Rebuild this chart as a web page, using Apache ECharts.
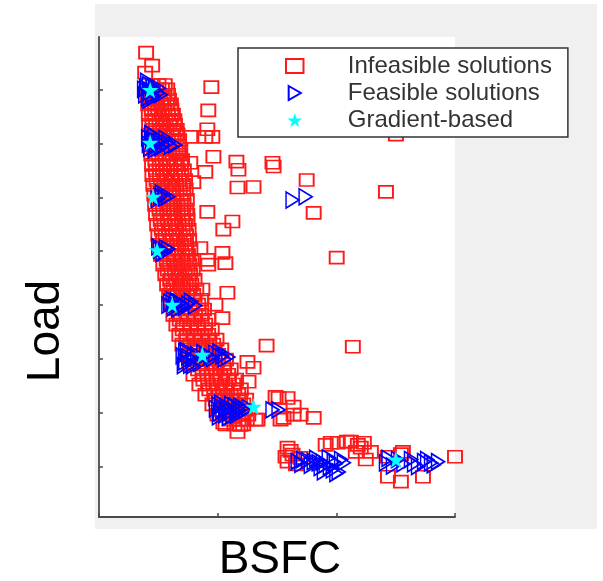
<!DOCTYPE html>
<html>
<head>
<meta charset="utf-8">
<script src="https://cdn.jsdelivr.net/npm/echarts@6/dist/echarts.min.js"></script>
<style>html,body{margin:0;padding:0;background:#fff}#c{width:603px;height:581px}</style>
</head>
<body>
<div id="c"></div>
<script>
// Series names (legend)
const seriesNames = ['Infeasible solutions', 'Feasible solutions', 'Gradient-based'];
const xTitle = 'BSFC';
const yTitle = 'Load';
const xTicks = [0, 100, 200, 300];
const yTicks = [10, 20, 30, 40, 50, 60, 70, 80];

// Infeasible solutions [BSFC, Load]
const infeasible = [
  [39.7,86.8],[44.8,84.4],[38.9,83.1],
  [40.6,80.8],[45.2,80.8],[50.1,80.8],[55.4,80.8],
  [43.0,80.0],[48.0,80.0],[53.0,80.0],[57.5,80.0],
  [41.0,79.0],[46.3,79.0],[51.2,79.0],[55.0,79.0],[58.1,79.0],
  [44.0,78.1],[49.0,78.1],[54.2,78.1],[59.0,78.1],
  [41.5,77.2],[47.1,77.2],[52.3,77.2],[57.2,77.2],[60.6,77.2],
  [44.5,76.2],[50.0,76.2],[55.0,76.2],[61.0,76.2],
  [42.0,75.3],[47.4,75.3],[53.0,75.3],[58.1,75.3],[62.3,75.3],
  [45.0,74.3],[51.0,74.3],[56.0,74.3],[60.5,74.3],[63.5,74.3],
  [42.2,73.4],[48.1,73.4],[54.0,73.4],[59.3,73.4],[64.0,73.4],
  [45.5,72.5],[51.5,72.5],[57.0,72.5],[62.5,72.5],[65.5,72.5],
  [42.5,71.6],[48.4,71.6],[55.1,71.6],[61.0,71.6],[66.2,71.6],
  [46.0,70.6],[52.0,70.6],[58.0,70.6],[63.0,70.6],[67.5,70.6],
  [43.0,69.6],[49.2,69.6],[55.3,69.6],[61.4,69.6],[66.9,69.6],
  [46.5,68.8],[52.5,68.8],[59.0,68.8],[64.5,68.8],[68.5,68.8],
  [44.1,67.9],[50.3,67.9],[56.2,67.9],[62.0,67.9],[68.1,67.9],
  [47.5,66.9],[53.5,66.9],[60.0,66.9],[65.5,66.9],[70.0,66.9],
  [44.7,66.0],[51.2,66.0],[57.1,66.0],[63.4,66.0],[69.0,66.0],
  [48.0,65.0],[54.0,65.0],[60.5,65.0],[66.5,65.0],[71.5,65.0],
  [45.0,64.1],[51.3,64.1],[57.4,64.1],[64.1,64.1],[69.4,64.1],
  [48.5,63.2],[55.0,63.2],[61.5,63.2],[67.5,63.2],[72.5,63.2],
  [45.8,62.3],[52.2,62.3],[58.3,62.3],[65.0,62.3],[70.8,62.3],
  [49.5,61.4],[56.0,61.4],[62.5,61.4],[68.0,61.4],[73.0,61.4],
  [46.6,60.5],[53.1,60.5],[59.2,60.5],[65.3,60.5],[71.0,60.5],
  [50.0,59.5],[57.0,59.5],[63.0,59.5],[69.0,59.5],[74.0,59.5],
  [47.3,58.6],[54.0,58.6],[60.2,58.6],[66.1,58.6],[71.2,58.6],
  [51.0,57.7],[57.5,57.7],[63.5,57.7],[69.0,57.7],[73.5,57.7],
  [48.1,56.8],[54.3,56.8],[60.4,56.8],[66.3,56.8],[70.9,56.8],
  [52.0,55.8],[58.0,55.8],[64.0,55.8],[70.0,55.8],[74.5,55.8],
  [49.0,54.9],[55.2,54.9],[61.3,54.9],[67.1,54.9],[72.4,54.9],
  [53.0,54.0],[59.0,54.0],[65.0,54.0],[70.5,54.0],[75.5,54.0],
  [50.0,53.0],[56.1,53.0],[62.2,53.0],[68.0,53.0],[73.3,53.0],
  [54.0,52.1],[60.0,52.1],[66.0,52.1],[71.5,52.1],[76.0,52.1],
  [50.8,51.2],[57.0,51.2],[63.1,51.2],[69.2,51.2],[73.1,51.2],
  [55.5,50.3],[61.0,50.3],[67.0,50.3],[72.5,50.3],[77.0,50.3],
  [52.3,49.3],[58.2,49.3],[64.0,49.3],[70.1,49.3],[75.0,49.3],
  [57.0,48.4],[63.0,48.4],[69.0,48.4],[73.5,48.4],[78.0,48.4],
  [54.2,47.5],[60.0,47.5],[66.1,47.5],[71.2,47.5],[76.0,47.5],
  [58.0,46.6],[64.0,46.6],[69.5,46.6],[74.5,46.6],[79.0,46.6],
  [55.9,45.7],[61.2,45.7],[67.0,45.7],[72.3,45.7],[76.8,45.7],
  [60.0,44.7],[65.0,44.7],[70.5,44.7],[75.5,44.7],[80.5,44.7],
  [57.4,43.8],[63.0,43.8],[68.2,43.8],[73.1,43.8],[77.9,43.8],
  [61.0,42.9],[66.0,42.9],[71.0,42.9],[76.5,42.9],[82.0,42.9],
  [59.1,41.9],[64.2,41.9],[69.3,41.9],[74.2,41.9],[79.4,41.9],
  [63.0,41.0],[68.5,41.0],[74.0,41.0],[80.5,41.0],[86.0,41.0],
  [61.0,40.1],[66.2,40.1],[72.1,40.1],[78.0,40.1],[83.6,40.1],
  [65.5,39.2],[72.0,39.2],[78.0,39.2],[84.0,39.2],[88.5,39.2],
  [62.7,38.2],[69.0,38.2],[75.1,38.2],[81.0,38.2],[86.1,38.2],
  [68.0,37.3],[74.0,37.3],[80.0,37.3],[86.5,37.3],[92.0,37.3],
  [65.2,36.4],[71.1,36.4],[77.2,36.4],[83.0,36.4],[89.5,36.4],
  [70.5,35.5],[77.0,35.5],[83.5,35.5],[89.0,35.5],[95.0,35.5],
  [67.7,34.5],[74.0,34.5],[80.1,34.5],[86.2,34.5],[92.0,34.5],
  [73.5,33.6],[80.5,33.6],[86.5,33.6],[93.0,33.6],[99.0,33.6],
  [70.3,32.7],[77.0,32.7],[83.2,32.7],[90.1,32.7],[96.2,32.7],
  [76.5,31.8],[83.5,31.8],[90.5,31.8],[97.5,31.8],[103.0,31.8],
  [72.8,30.8],[80.1,30.8],[87.0,30.8],[94.2,30.8],[100.4,30.8],
  [80.0,29.9],[86.5,29.9],[93.5,29.9],[100.5,29.9],[107.0,29.9],
  [76.2,29.0],[83.1,29.0],[90.2,29.0],[97.0,29.0],[104.7,29.0],
  [83.5,28.1],[91.0,28.1],[98.5,28.1],[105.5,28.1],[111.0,28.1],
  [79.6,27.1],[87.2,27.1],[95.0,27.1],[102.1,27.1],[108.8,27.1],
  [88.0,26.2],[95.5,26.2],[102.5,26.2],[109.5,26.2],[115.5,26.2],
  [84.6,25.3],[92.0,25.3],[99.1,25.3],[106.2,25.3],[113.1,25.3],
  [93.0,24.4],[100.5,24.4],[107.5,24.4],[114.0,24.4],[119.5,24.4],
  [89.7,23.4],[97.1,23.4],[104.2,23.4],[111.0,23.4],[117.3,23.4],
  [98.5,22.5],[106.0,22.5],[112.5,22.5],[119.0,22.5],[124.0,22.5],
  [95.6,21.6],[103.0,21.6],[109.2,21.6],[116.1,21.6],[121.6,21.6],
  [103.0,20.6],[110.0,20.6],[117.0,20.6],[123.0,20.6],
  [99.8,19.7],[107.1,19.7],[113.2,19.7],[120.0,19.7],[125.8,19.7],
  [110.0,18.8],[117.5,18.8],[124.5,18.8],
  [106.6,17.9],[114.2,17.9],[121.5,17.9],
  [94.7,80.4],[92.1,76.1],[91.3,72.6],[95.5,71.2],[76.9,71.2],[89.6,71.2],
  [96.4,67.5],[66.8,68.4],[76.9,66.4],[89.6,64.7],[79.5,62.8],
  [115.8,66.6],[117.5,65.1],[146.2,66.4],[147.1,65.7],[116.7,61.8],[130.2,61.9],
  [91.3,57.3],[112.4,55.5],[104.8,54.0],[104.0,49.7],[106.5,47.8],[91.3,48.4],
  [85.4,50.6],[74.4,56.8],[250.2,71.6],[175.0,63.2],[180.9,57.1],[241.8,61.0],
  [200.3,48.8],[213.9,32.3],[141.2,32.5],[92.1,47.5],[87.1,42.9],[108.2,42.3],
  [98.1,40.1],[104.0,37.6],[125.1,29.5],[130.2,28.4],[126.0,25.8],
  [148.8,23.0],[158.9,22.8],[155.5,19.1],
  [104.8,18.2],[116.7,16.5],[133.6,18.8],[153.0,18.8],[164.0,21.2],[164.0,19.7],
  [180.9,19.1],[151.3,22.8],[169.9,19.7],[131.9,18.8],[113.3,19.3],[119.2,17.8],
  [158.9,13.6],[157.2,11.9],[158.9,11.0],[163.1,12.3],[169.9,11.7],[161.5,13.0],
  [166.0,10.5],[195.3,14.5],[201.2,14.5],[208.8,14.7],[212.2,14.7],[218.1,14.1],
  [223.2,14.5],[216.4,12.8],[229.1,12.8],[224.8,11.4],[220.6,13.6],[243.5,11.9],
  [254.4,12.4],[256.1,12.8],[243.5,8.2],[254.4,7.3],[273.0,8.2],[300.0,11.9],
  [191.0,14.1]
];

// Feasible solutions [BSFC, Load]
const feasible = [
  [39.7,80.3],[43.1,79.6],[44.8,79.0],[41.4,78.4],[47.3,79.9],[49.9,79.3],[38.9,79.0],[42.0,80.9],
  [40.5,81.5],[45.5,80.5],[42.5,78.0],[46.0,78.6],[50.5,80.2],[52.0,79.0],[38.0,80.0],
  [41.4,71.0],[44.8,70.2],[48.2,69.5],[51.6,70.6],[54.1,69.7],[58.3,70.1],[64.2,69.7],[43.1,69.1],[46.5,71.3],
  [42.0,69.8],[45.5,70.8],[49.5,70.4],[52.5,69.2],[56.0,70.9],[60.5,69.5],[47.0,68.8],[44.0,71.8],
  [51.6,60.2],[55.8,59.9],[58.3,60.1],[53.0,60.8],[49.5,59.6],[54.5,60.5],
  [51.6,50.2],[55.8,49.9],[58.3,50.4],[53.5,49.6],[50.0,50.8],[56.5,50.6],
  [60.0,40.6],[64.2,40.1],[68.5,40.4],[75.2,40.2],[81.1,39.9],[66.8,39.3],[62.0,41.0],
  [58.5,40.0],[63.0,39.5],[70.5,40.0],[72.5,39.6],[77.5,40.7],[65.5,40.8],
  [72.7,31.4],[75.2,30.4],[78.6,29.9],[82.8,30.8],[87.9,31.2],[93.8,30.4],[98.1,31.0],
  [104.0,30.6],[109.0,30.4],[76.9,28.9],[72.7,29.5],[85.0,29.2],
  [70.5,30.6],[74.0,31.6],[80.0,30.6],[90.5,30.8],[96.0,30.1],[101.5,31.3],[106.0,30.0],[71.5,28.8],[79.5,28.8],
  [100.6,21.5],[104.0,20.6],[107.4,21.2],[110.7,20.2],[114.1,21.4],[117.5,20.6],[120.9,20.8],
  [126.0,21.0],[106.5,19.7],[112.4,19.5],[146.2,20.6],[151.3,20.6],[102.0,20.0],
  [98.5,20.8],[103.0,21.8],[108.5,20.6],[111.5,21.6],[115.5,20.2],[119.0,21.3],[123.5,20.5],[101.0,19.3],[109.5,19.2],[116.0,19.6],
  [167.4,11.0],[180.9,11.0],[185.1,10.8],[191.0,10.4],[197.0,9.5],[206.3,10.8],[197.8,11.0],
  [186.8,9.9],[193.6,11.7],[202.0,9.1],[241.8,10.8],[251.9,11.4],[262.9,11.4],[273.9,11.0],
  [279.8,10.8],[285.7,11.0],[268.8,10.1],[247.7,10.2],[170.5,10.5],[176.0,11.2],
  [172.0,11.4],[178.5,10.3],[183.0,11.6],[188.5,10.9],[194.5,10.0],[199.5,10.6],[204.0,11.4],[189.5,9.1],[200.0,8.8],
  [244.0,11.6],[256.5,10.6],[265.5,10.6],[276.5,11.4],[282.0,10.4],
  [163.1,59.5],[174.1,60.1]
];

// Gradient-based optimum [BSFC, Load]
const gradient = [
  [43.1,79.9],[43.1,70.1],[45.6,60.1],[49.0,50.2],[61.7,40.1],[87.1,30.8],[130.2,21.2],[250.2,11.4]
];

const rectPath = 'path://M0,0H15V12H0Z';
const triPath = 'path://M0,0L13,7.5L0,15Z';
const starPath = 'path://M50,0L61,35L98,35L68,57L79,91L50,70L21,91L32,57L2,35L39,35Z';
const axisColor = '#4a4a4a';

const chart = echarts.init(document.getElementById('c'), null, {renderer: 'canvas'});
chart.setOption({
  animation: false,
  backgroundColor: '#ffffff',
  graphic: [
    {type: 'rect', z: -100, shape: {x: 95, y: 4, width: 502, height: 525}, style: {fill: '#f0f0f0'}},
    {type: 'rect', z: -99, shape: {x: 99, y: 37, width: 356, height: 480}, style: {fill: '#ffffff'}},
    {type: 'text', x: 280, y: 560, style: {text: xTitle, font: '46px "Liberation Sans", Arial, sans-serif', fill: '#000', align: 'center', verticalAlign: 'middle'}},
    {type: 'text', x: 46, y: 331, rotation: Math.PI / 2, style: {text: yTitle, font: '46px "Liberation Sans", Arial, sans-serif', fill: '#000', align: 'center', verticalAlign: 'middle'}}
  ],
  grid: {left: 99, top: 37, width: 356, height: 480, containLabel: false},
  legend: {
    orient: 'vertical',
    left: 238, top: 48,
    padding: [6, 16, 5, 47],
    itemWidth: 96, itemHeight: 14, itemGap: 3,
    symbolKeepAspect: true,
    backgroundColor: '#ffffff',
    borderColor: '#333333', borderWidth: 1.5,
    textStyle: {fontSize: 24, fontFamily: '"Liberation Sans", Arial, sans-serif', color: '#333333'},
    data: seriesNames
  },
  xAxis: {
    type: 'value', min: xTicks[0], max: xTicks[xTicks.length - 1], interval: 100,
    axisLine: {show: true, lineStyle: {color: axisColor, width: 1.8}},
    axisTick: {show: true, inside: true, length: 4, lineStyle: {color: axisColor, width: 1.5}},
    axisLabel: {show: false}, splitLine: {show: false}
  },
  yAxis: {
    type: 'value', min: 0.74, max: 89.7,
    axisLine: {show: true, lineStyle: {color: axisColor, width: 1.8}},
    axisTick: {show: true, inside: true, length: 4, customValues: yTicks, lineStyle: {color: axisColor, width: 1.5}},
    axisLabel: {show: false, customValues: yTicks}, splitLine: {show: false}
  },
  series: [
    {
      name: seriesNames[0], type: 'scatter', data: infeasible, clip: false,
      symbol: rectPath, symbolSize: [14, 12],
      itemStyle: {color: 'rgba(255,255,255,0)', borderColor: '#ff1a1a', borderWidth: 1.8, opacity: 1}
    },
    {
      name: seriesNames[1], type: 'scatter', data: feasible, clip: false,
      symbol: triPath, symbolSize: [13, 16],
      itemStyle: {color: 'rgba(255,255,255,0)', borderColor: '#0000ff', borderWidth: 1.6, opacity: 1}
    },
    {
      name: seriesNames[2], type: 'scatter', data: gradient, clip: false,
      symbol: starPath, symbolSize: 17,
      itemStyle: {color: '#00ffff', opacity: 1}
    }
  ]
});
</script>
</body>
</html>
